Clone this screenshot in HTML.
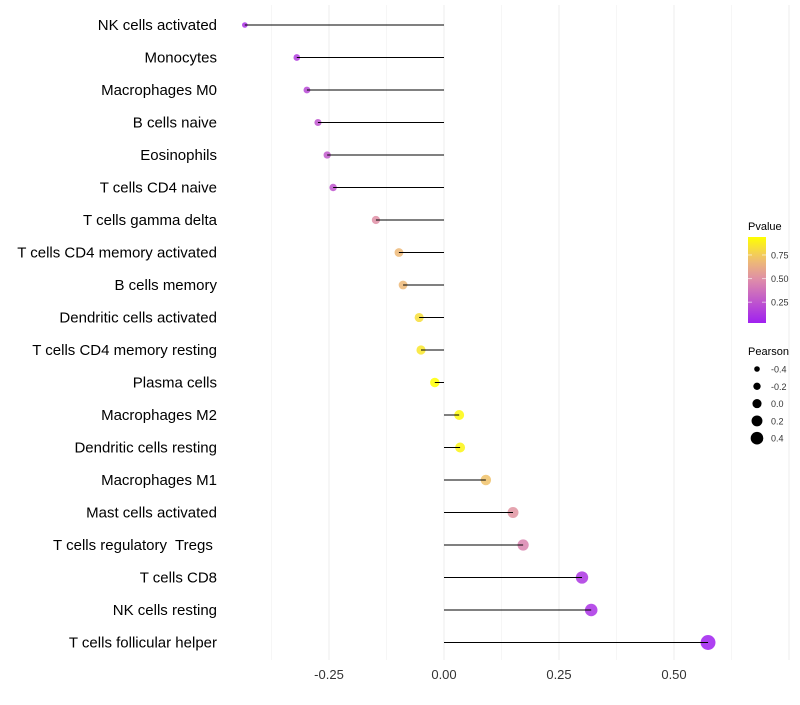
<!DOCTYPE html>
<html><head><meta charset="utf-8"><style>
body{margin:0;background:#fff;font-family:"Liberation Sans",sans-serif;}
svg text{font-family:"Liberation Sans",sans-serif;white-space:pre;}
</style></head><body>
<svg id="chart" width="800" height="700" xmlns="http://www.w3.org/2000/svg"></svg>
<script>
const categories=["NK cells activated","Monocytes","Macrophages M0","B cells naive","Eosinophils","T cells CD4 naive","T cells gamma delta","T cells CD4 memory activated","B cells memory","Dendritic cells activated","T cells CD4 memory resting","Plasma cells","Macrophages M2","Dendritic cells resting","Macrophages M1","Mast cells activated","T cells regulatory  Tregs ","T cells CD8","NK cells resting","T cells follicular helper"];
const pearson=[-0.433,-0.320,-0.298,-0.274,-0.254,-0.241,-0.148,-0.098,-0.089,-0.054,-0.050,-0.020,0.033,0.035,0.091,0.150,0.172,0.300,0.320,0.574];
const pvalue=[0.10,0.15,0.20,0.25,0.27,0.25,0.50,0.68,0.68,0.82,0.85,0.95,0.92,0.90,0.72,0.52,0.45,0.12,0.10,0.03];
const xTicks=[-0.25,0,0.25,0.5];
const xTickLabels=["-0.25","0.00","0.25","0.50"];
const pTicks=[0.25,0.5,0.75];
const sizeTicks=[-0.4,-0.2,0,0.2,0.4];
const NS="http://www.w3.org/2000/svg";
const svg=document.getElementById('chart');
function el(t,a,p){const e=document.createElementNS(NS,t);for(const k in a)e.setAttribute(k,a[k]);(p||svg).appendChild(e);return e;}
const x=v=>444+v*460;
const y=i=>25+i*32.5;
const r=v=>4.8+v*4.6;
const pmin=0.03,pmax=0.94;
function col(p){let t=Math.max(0,Math.min(1,(p-pmin)/(pmax-pmin)));
 const s=[[0,[160,32,240]],[0.5,[222,140,170]],[0.75,[240,192,110]],[1,[255,255,0]]];
 for(let i=0;i<s.length-1;i++){if(t<=s[i+1][0]){const f=(t-s[i][0])/(s[i+1][0]-s[i][0]);const a=s[i][1],b=s[i+1][1];return `rgb(${a.map((c,j)=>Math.round(c+(b[j]-c)*f)).join(',')})`;}}
 return 'rgb(255,255,0)';}
for(let k=-3;k<=6;k++){const v=k*0.125;const major=k%2===0;
 const g=el('line',{x1:x(v),x2:x(v),y1:5,y2:660,stroke:major?'#ececec':'#f4f4f4','stroke-width':major?1:0.8});
 }
xTicks.forEach((v,i)=>{const t=el('text',{x:x(v),y:679,'text-anchor':'middle','font-size':13,fill:'#333'});t.textContent=xTickLabels[i];
});
categories.forEach((c,i)=>{
 const t=el('text',{x:217,y:y(i)+5,'text-anchor':'end','font-size':15,fill:'#000'});t.textContent=c;
 
 const pt=el('circle',{cx:x(pearson[i]),cy:y(i),r:r(pearson[i]),fill:col(pvalue[i]),'fill-opacity':0.85});
 
 const ln=el('line',{x1:x(0),x2:x(pearson[i]),y1:y(i),y2:y(i),stroke:'#000','stroke-width':1});
 
});
const lt=el('text',{x:748,y:230,'font-size':11,fill:'#000'});lt.textContent='Pvalue';

const defs=el('defs',{});const lg=el('linearGradient',{id:'pg',x1:0,y1:1,x2:0,y2:0},defs);
for(let k=0;k<=10;k++){el('stop',{offset:k/10,'stop-color':col(pmin+(pmax-pmin)*k/10)},lg);}
const bar=el('rect',{x:748,y:237,width:18,height:86,fill:'url(#pg)'});

pTicks.forEach(p=>{const yy=323-(p-pmin)/(pmax-pmin)*86;
 el('line',{x1:748,x2:752,y1:yy,y2:yy,stroke:'#fff','stroke-opacity':0.6});el('line',{x1:762,x2:766,y1:yy,y2:yy,stroke:'#fff','stroke-opacity':0.6});
 const t=el('text',{x:771,y:yy+3.5,'font-size':9,fill:'#333'});t.textContent=p.toFixed(2);
 });
const st=el('text',{x:748,y:355,'font-size':11,fill:'#000'});st.textContent='Pearson';

sizeTicks.forEach((v,i)=>{const yy=369+i*17.3;
 const c=el('circle',{cx:757,cy:yy,r:r(v)*0.95,fill:'#000'});
 const t=el('text',{x:771,y:yy+3.5,'font-size':9,fill:'#333'});t.textContent=v.toFixed(1);
 });
</script>
</body></html>
